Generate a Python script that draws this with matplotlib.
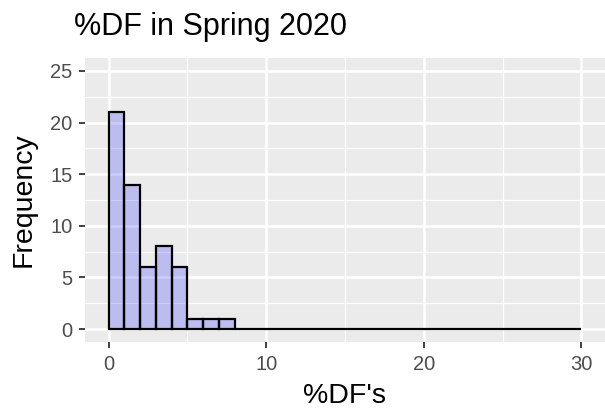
import matplotlib
matplotlib.use("Agg")
import matplotlib.pyplot as plt
from matplotlib.ticker import MultipleLocator
import numpy as np

plt.rcParams['font.family'] = ['Liberation Sans', 'DejaVu Sans']

bin_edges = list(range(0, 31))
counts = [21, 14, 6, 8, 6, 1, 1, 1] + [0] * 22
title = "%DF in Spring 2020"
xlabel = "%DF's"
ylabel = "Frequency"
xticks = [0, 10, 20, 30]
yticks = [0, 5, 10, 15, 20, 25]

fig = plt.figure(figsize=(6.05, 4.13), dpi=100)
ax = fig.add_axes([85/605, (413-342)/413, (605-85)/605, (342-58)/413])
ax.set_facecolor('#EBEBEB')

lefts = np.array(bin_edges[:-1])
widths = np.diff(bin_edges)
ax.bar(lefts, counts, width=widths, align='edge', color=(0, 0, 1, 0.2),
       edgecolor='black', linewidth=1.6, zorder=3)

ax.set_xlim(-1.5, 31.5)
ax.set_ylim(-1.25, 26.25)
ax.set_xticks(xticks)
ax.set_yticks(yticks)
ax.xaxis.set_minor_locator(MultipleLocator(5))
ax.yaxis.set_minor_locator(MultipleLocator(2.5))
ax.grid(which='major', color='white', linewidth=1.8, zorder=0)
ax.grid(which='minor', color='white', linewidth=0.9, zorder=0)
ax.set_axisbelow(True)
for s in ax.spines.values():
    s.set_visible(False)
ax.tick_params(which='major', length=4.5, width=1.3, color='#333333',
               labelcolor='#4D4D4D', labelsize=14.5, pad=4.5)
ax.tick_params(which='minor', length=0)

ax.set_xlabel(xlabel, fontsize=20.5, color='black', labelpad=7)
ax.set_ylabel(ylabel, fontsize=20.5, color='black', labelpad=10)
fig.text(74/605, 1 - 35/413, title, fontsize=22, color='black', ha='left', va='baseline')

fig.savefig('out.png', dpi=100)
